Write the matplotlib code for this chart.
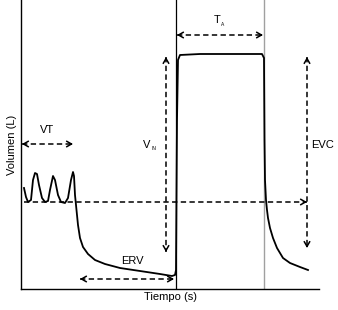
import numpy as np
import matplotlib
matplotlib.use("Agg")
import matplotlib.pyplot as plt

plt.rcParams['font.family'] = ['Liberation Sans', 'DejaVu Sans']

# spirometry trace, time (arbitrary units) and volume (arbitrary units, 0 = bottom of axis)
H = 289
tiempo = [24, 26, 28, 31, 33, 35, 37, 39, 42, 45, 48, 50, 53, 55, 58, 61, 65, 68, 71, 73,
          74, 75, 76, 78, 80, 83, 88, 95, 105, 120, 140, 160, 172, 175, 176, 177, 178, 180,
          200, 230, 262, 264, 264.5, 265, 266, 267, 268, 270, 273, 277, 283, 290, 300, 308]
vol_px = [188, 197, 202, 200, 180, 173, 174, 185, 198, 202, 201, 190, 176, 180, 195, 202, 203, 198, 180, 172,
          176, 195, 205, 225, 238, 247, 254, 260, 264, 268, 271, 274, 276, 275, 270, 120, 60, 55,
          54, 54, 54, 58, 140, 180, 200, 210, 218, 228, 238, 248, 258, 263, 267, 270]
volumen = [H - v for v in vol_px]

# marker lines
t_inicio = 176
t_fin = 264
v_base = H - 202

# arrows: (x0, y0, x1, y1, both ends)
flechas = [
    (22, H - 144, 73, H - 144, True),     # VT
    (24, v_base, 307, v_base, False),     # baseline
    (166, H - 57, 166, H - 252, True),    # VIN
    (177, H - 35, 263, H - 35, True),     # TA
    (307, H - 57, 307, H - 248, True),    # EVC
    (80, H - 279, 174, H - 279, True),    # ERV
]

fig = plt.figure(figsize=(3.38, 3.10), dpi=100)
ax = fig.add_axes([21 / 338, 21 / 310, 298 / 338, 289 / 310])
ax.set_xlim(21, 319)
ax.set_ylim(0, H)

ax.plot(tiempo, volumen, color='black', lw=1.3, solid_joinstyle='round', zorder=3)
ax.axvline(t_inicio, color='black', lw=0.9)
ax.axvline(t_fin, color='#a0a0a0', lw=1.0)

def flecha(x0, y0, x1, y1, ambos):
    ax.plot([x0, x1], [y0, y1], color='black', lw=1.1, ls=(0, (3.5, 2.2)), zorder=4)
    dx, dy = x1 - x0, y1 - y0
    n = np.hypot(dx, dy)
    ux, uy = dx / n, dy / n
    ends = [(x1, y1, ux, uy)]
    if ambos:
        ends.append((x0, y0, -ux, -uy))
    for ex, ey, vx, vy in ends:
        ax.annotate('', xy=(ex, ey), xytext=(ex - 3 * vx, ey - 3 * vy),
                    arrowprops=dict(arrowstyle='->,head_length=0.35,head_width=0.2',
                                    color='black', lw=1.1, shrinkA=0, shrinkB=0),
                    zorder=5)

for x0, y0, x1, y1, ambos in flechas:
    flecha(x0, y0, x1, y1, ambos)

fs = 8
ax.text(47, H - 130, 'VT', fontsize=fs, ha='center', va='center')
ax.text(147, H - 145, 'V', fontsize=fs, ha='center', va='center')
ax.text(154, H - 149, 'IN', fontsize=3.5, ha='center', va='center')
ax.text(217, H - 20, 'T', fontsize=fs, ha='center', va='center')
ax.text(222.5, H - 24.5, 'A', fontsize=3.5, ha='center', va='center')
ax.text(311, H - 145, 'EVC', fontsize=fs, ha='left', va='center', clip_on=False)
ax.text(132, H - 261, 'ERV', fontsize=fs, ha='center', va='center')

ax.set_xlabel('Tiempo (s)', fontsize=fs, labelpad=2)
ax.set_ylabel('Volumen (L)', fontsize=fs, labelpad=3)
ax.set_xticks([])
ax.set_yticks([])
for s in ['top', 'right']:
    ax.spines[s].set_visible(False)
for s in ['left', 'bottom']:
    ax.spines[s].set_linewidth(1.0)

fig.savefig('out.png', dpi=100)
